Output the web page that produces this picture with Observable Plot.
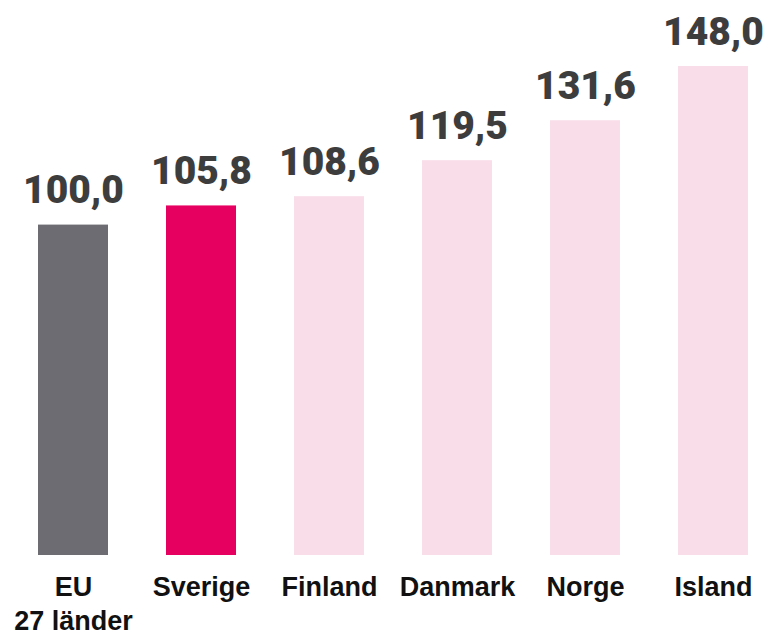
<!DOCTYPE html>
<html>
<head>
<meta charset="utf-8">
<script src="https://cdn.jsdelivr.net/npm/d3@7"></script>
<script src="https://cdn.jsdelivr.net/npm/@observablehq/plot@0.6"></script>
<style>
  html, body { margin: 0; padding: 0; background: #ffffff; }
  #chart { width: 764px; height: 639px; }
</style>
</head>
<body>
<div id="chart"></div>
<script>
const categories = ["EU\n27 länder", "Sverige", "Finland", "Danmark", "Norge", "Island"];
const values = [100.0, 105.8, 108.6, 119.5, 131.6, 148.0];
const valueLabels = ["100,0", "105,8", "108,6", "119,5", "131,6", "148,0"];
const colors = ["#6d6c72", "#e6005f", "#f9dee9", "#f9dee9", "#f9dee9", "#f9dee9"];

const data = categories.map((c, i) => ({cat: c, value: values[i], label: valueLabels[i], color: colors[i]}));

const chart = Plot.plot({
  width: 764,
  height: 639,
  marginTop: 0,
  marginBottom: 0,
  marginLeft: 0,
  marginRight: 0,
  style: {background: "#ffffff", overflow: "visible"},
  x: {domain: categories, range: [36, 749], paddingInner: 0.456, paddingOuter: 0, axis: null},
  y: {domain: [0, 148], range: [555, 66], axis: null},
  marks: [
    Plot.barY(data, {x: "cat", y: "value", fill: "color"}),
    Plot.text(data, {
      x: "cat", y: "value", text: "label",
      lineAnchor: "bottom", dy: -22,
      fontSize: 39, fontWeight: 900,
      fontFamily: "Roboto, 'Liberation Sans', sans-serif",
      fill: "#3d3d3d"
    }),
    Plot.text(data, {
      x: "cat", y: 0, text: "cat",
      lineAnchor: "top", dy: 17, lineHeight: 1.25,
      fontSize: 27, fontWeight: 700,
      fontFamily: "'Liberation Sans', Arial, sans-serif",
      fill: "#111111"
    })
  ]
});
document.getElementById("chart").appendChild(chart);
</script>
</body>
</html>
